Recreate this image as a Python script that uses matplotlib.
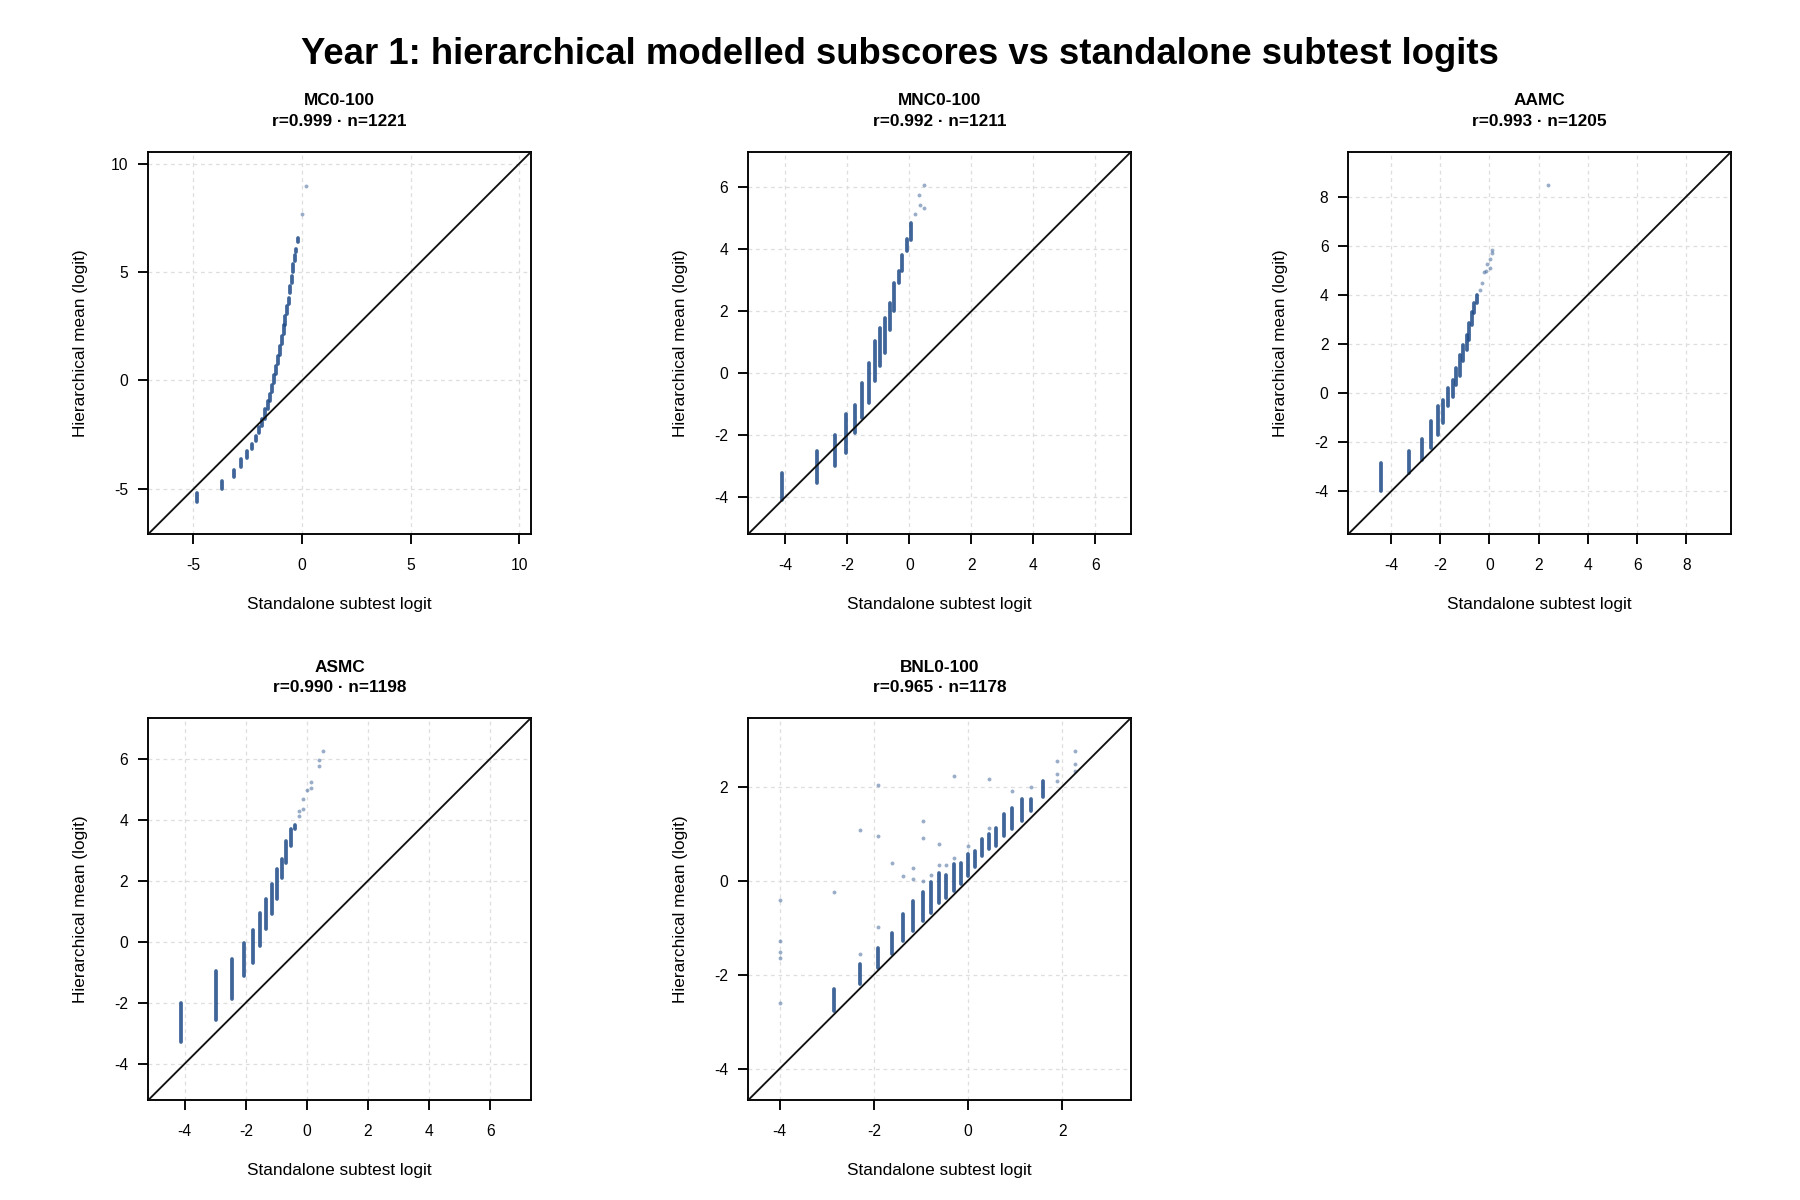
import numpy as np
import matplotlib
matplotlib.use("Agg")
import matplotlib.pyplot as plt

# ---- values ----
names = ["MC0-100", "MNC0-100", "AAMC", "ASMC", "BNL0-100"]
r_vals = [0.999, 0.992, 0.993, 0.990, 0.965]
n_vals = [1221, 1211, 1205, 1198, 1178]

# each panel: score columns (x, y-range of the dense stack) + isolated points
mc_x = [-4.82, -3.69, -3.15, -2.80, -2.54, -2.32, -2.14, -1.97, -1.83, -1.71, -1.57, -1.46, -1.37, -1.28,
        -1.18, -1.09, -1.00, -0.92, -0.85, -0.77, -0.69, -0.62, -0.54, -0.48, -0.42, -0.34, -0.28, -0.20]
mc_lo = [-5.62, -5.00, -4.43, -3.97, -3.57, -3.17, -2.80, -2.43, -2.11, -1.77, -1.31, -0.95, -0.54, -0.12,
         0.31, 0.77, 1.18, 1.66, 2.12, 2.57, 3.08, 3.51, 4.03, 4.49, 5.00, 5.51, 5.92, 6.38]
mc_hi = [-5.20, -4.62, -4.12, -3.63, -3.26, -2.92, -2.54, -2.15, -1.77, -1.31, -0.97, -0.62, -0.20, 0.23,
         0.65, 1.11, 1.57, 2.03, 2.54, 2.97, 3.42, 3.82, 4.34, 4.80, 5.35, 5.77, 6.08, 6.58]
mc_out_x = [-0.02, 0.18]
mc_out_y = [7.69, 8.98]

mnc_x = [-4.10, -2.96, -2.41, -2.03, -1.74, -1.51, -1.30, -1.12, -0.95, -0.78, -0.63, -0.48, -0.34, -0.22, -0.08, 0.05]
mnc_lo = [-4.08, -3.54, -3.00, -2.57, -1.92, -1.44, -0.96, -0.26, 0.23, 0.66, 1.41, 2.00, 2.91, 3.29, 3.94, 4.31]
mnc_hi = [-3.22, -2.52, -1.98, -1.33, -1.01, -0.31, 0.33, 1.03, 1.46, 1.78, 2.27, 2.91, 3.29, 3.83, 4.33, 4.85]
mnc_out_x = [0.19, 0.32, 0.34, 0.46, 0.46]
mnc_out_y = [5.13, 5.75, 5.44, 5.33, 6.06]

aamc_x = [-4.39, -3.28, -2.72, -2.37, -2.10, -1.87, -1.67, -1.49, -1.34, -1.19, -1.06, -0.93, -0.81, -0.70, -0.61, -0.49]
aamc_lo = [-4.00, -3.25, -2.71, -2.24, -1.69, -1.22, -0.54, -0.14, 0.34, 0.68, 1.29, 1.76, 2.17, 2.78, 3.25, 3.66]
aamc_hi = [-2.85, -2.37, -1.87, -1.15, -0.54, -0.27, 0.20, 0.54, 1.02, 1.56, 1.96, 2.37, 2.85, 3.32, 3.66, 4.00]
aamc_out_x = [-0.39, -0.30, -0.24, -0.15, -0.08, 0.01, 0.01, 0.11, 0.11, 2.38]
aamc_out_y = [4.20, 4.50, 4.91, 4.96, 5.26, 5.08, 5.46, 5.83, 5.69, 8.46]

asmc_x = [-4.12, -2.98, -2.45, -2.05, -1.77, -1.53, -1.33, -1.15, -0.97, -0.81, -0.67, -0.51, -0.38]
asmc_lo = [-3.29, -2.57, -1.87, -1.12, -0.69, -0.14, 0.43, 0.90, 1.39, 2.10, 2.59, 3.13, 3.68]
asmc_hi = [-2.02, -0.96, -0.58, -0.03, 0.40, 0.95, 1.39, 1.88, 2.37, 2.70, 3.30, 3.68, 3.84]
asmc_out_x = [-0.25, -0.25, -0.14, -0.14, 0.00, 0.13, 0.13, 0.39, 0.39, 0.52]
asmc_out_y = [4.28, 4.12, 4.36, 4.68, 4.97, 5.23, 5.04, 5.97, 5.75, 6.24]

bnl_x = [-2.84, -2.29, -1.91, -1.62, -1.38, -1.16, -0.96, -0.79, -0.62, -0.46, -0.30,
         -0.15, 0.00, 0.15, 0.30, 0.45, 0.60, 0.77, 0.94, 1.14, 1.35, 1.60]
bnl_lo = [-2.77, -2.21, -1.85, -1.57, -1.28, -1.07, -0.86, -0.68, -0.47, -0.36, -0.22,
          -0.08, 0.10, 0.28, 0.52, 0.67, 0.74, 0.95, 1.09, 1.27, 1.48, 1.77]
bnl_hi = [-2.31, -1.78, -1.43, -1.11, -0.70, -0.43, -0.24, -0.03, 0.17, 0.13, 0.35,
          0.38, 0.56, 0.63, 0.88, 0.99, 1.13, 1.41, 1.55, 1.73, 1.73, 2.12]
bnl_out_x = [-3.99, -3.99, -3.99, -3.99, -3.99, -2.84, -2.29, -2.29, -1.91, -1.91, -1.91, -1.62,
             -1.38, -1.16, -1.16, -0.96, -0.96, -0.96, -0.79, -0.62, -0.62, -0.46, -0.30, -0.30,
             0.00, 0.45, 0.45, 0.94, 1.35, 1.89, 1.89, 1.89, 2.28, 2.28, 2.28]
bnl_out_y = [-0.41, -1.28, -1.52, -1.64, -2.60, -0.24, 1.08, -1.57, 2.04, 0.95, -0.98, 0.38,
             0.09, 0.26, 0.03, 1.27, 0.91, -0.01, 0.13, 0.77, 0.33, 0.33, 2.23, 0.48,
             0.74, 2.16, 1.13, 1.91, 2.00, 2.55, 2.26, 2.13, 2.76, 2.48, 2.33]

# shared x/y range of each square panel, and its ticks
lims = [(-7.08, 10.53), (-5.19, 7.14), (-5.73, 9.81), (-5.19, 7.33), (-4.67, 3.46)]
ticks = [[-5, 0, 5, 10], [-4, -2, 0, 2, 4, 6], [-4, -2, 0, 2, 4, 6, 8], [-4, -2, 0, 2, 4, 6], [-4, -2, 0, 2]]

panels = [
    (mc_x, mc_lo, mc_hi, mc_out_x, mc_out_y),
    (mnc_x, mnc_lo, mnc_hi, mnc_out_x, mnc_out_y),
    (aamc_x, aamc_lo, aamc_hi, aamc_out_x, aamc_out_y),
    (asmc_x, asmc_lo, asmc_hi, asmc_out_x, asmc_out_y),
    (bnl_x, bnl_lo, bnl_hi, bnl_out_x, bnl_out_y),
]

# ---- style ----
plt.rcParams.update({
    "font.family": ["Liberation Sans", "DejaVu Sans"],
    "axes.linewidth": 0.9,
    "xtick.major.size": 4.8, "ytick.major.size": 4.8,
    "xtick.major.width": 0.9, "ytick.major.width": 0.9,
})
NAVY = "#1d4a87"
GRID = "#dedede"

fig = plt.figure(figsize=(12, 8), dpi=150)
fig.text(0.5, 0.955, "Year 1: hierarchical modelled subscores vs standalone subtest logits",
         ha="center", va="center", fontsize=17.5, fontweight="bold")

lefts = [0.0824, 0.4157, 0.7491, 0.0824, 0.4157]
bottoms = [0.555, 0.555, 0.555, 0.0833, 0.0833]
W, H = 0.2125, 0.3183

for i, (xs, lo, hi, ox, oy) in enumerate(panels):
    ax = fig.add_axes([lefts[i], bottoms[i], W, H])
    lo_lim, hi_lim = lims[i]
    ax.set_xlim(lo_lim, hi_lim); ax.set_ylim(lo_lim, hi_lim)
    ax.set_xticks(ticks[i]); ax.set_yticks(ticks[i])
    ax.grid(True, color=GRID, lw=0.6, linestyle=(0, (3, 3)))
    ax.set_axisbelow(True)

    # dense stacks of tied scores, then the stray points
    vl = ax.vlines(xs, lo, hi, colors=NAVY, lw=1.8, alpha=0.85, zorder=3)
    vl.set_capstyle("round")
    ax.scatter(ox, oy, s=3.5, color=NAVY, alpha=0.45, lw=0, zorder=3)
    ax.plot([lo_lim, hi_lim], [lo_lim, hi_lim], color="#111111", lw=0.9, zorder=4)

    ax.tick_params(axis="x", labelsize=7.5, pad=6.8)
    ax.tick_params(axis="y", labelsize=7.5, pad=4.8)
    ax.set_xticklabels([str(t) for t in ticks[i]])
    ax.set_yticklabels([str(t) for t in ticks[i]])
    ax.set_xlabel("Standalone subtest logit", fontsize=8.3)
    ax.set_ylabel("Hierarchical mean (logit)", fontsize=8.3)
    ax.xaxis.set_label_coords(0.5, -0.165)
    ax.yaxis.set_label_coords(-0.157, 0.5)

    ax.annotate(names[i], (0.5, 1), xycoords="axes fraction", xytext=(0, 24.5),
                textcoords="offset points", ha="center", va="center", fontsize=8.3, fontweight="bold")
    ax.annotate(f"r={r_vals[i]:.3f} \u00b7 n={n_vals[i]}", (0.5, 1), xycoords="axes fraction",
                xytext=(0, 14.8), textcoords="offset points", ha="center", va="center",
                fontsize=8.3, fontweight="bold")

fig.savefig("out.png", dpi=150, facecolor="white")
